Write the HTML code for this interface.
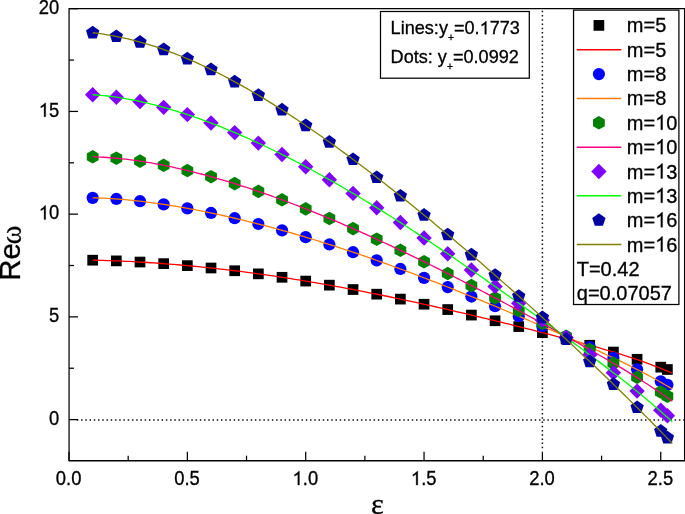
<!DOCTYPE html>
<html><head><meta charset="utf-8"><style>
html,body{margin:0;padding:0;background:#fff;width:685px;height:514px;overflow:hidden}
svg{display:block;will-change:transform}
text{font-family:"Liberation Sans",sans-serif;fill:#000;stroke:#000;stroke-width:0.3px}
tspan.h{fill:none;stroke:none}
path.one{fill:#000;stroke:#000}
</style></head><body>
<svg width="685" height="514" viewBox="0 0 685 514">
<rect width="685" height="514" fill="#fff"/>
<line x1="76.81" y1="419.95" x2="684" y2="419.95" stroke="#111" stroke-width="1.5" stroke-dasharray="1.5 2.74"/>
<line x1="542.4" y1="10.75" x2="542.4" y2="450" stroke="#111" stroke-width="1.5" stroke-dasharray="1.5 2.734"/>
<rect x="87.32" y="254.85" width="10.7" height="10.7" fill="#000000"/>
<rect x="110.99" y="255.53" width="10.7" height="10.7" fill="#000000"/>
<rect x="134.66" y="256.69" width="10.7" height="10.7" fill="#000000"/>
<rect x="158.33" y="258.28" width="10.7" height="10.7" fill="#000000"/>
<rect x="182.00" y="260.27" width="10.7" height="10.7" fill="#000000"/>
<rect x="205.67" y="262.65" width="10.7" height="10.7" fill="#000000"/>
<rect x="229.34" y="265.40" width="10.7" height="10.7" fill="#000000"/>
<rect x="253.01" y="268.50" width="10.7" height="10.7" fill="#000000"/>
<rect x="276.68" y="271.94" width="10.7" height="10.7" fill="#000000"/>
<rect x="300.35" y="275.72" width="10.7" height="10.7" fill="#000000"/>
<rect x="324.02" y="279.80" width="10.7" height="10.7" fill="#000000"/>
<rect x="347.69" y="284.19" width="10.7" height="10.7" fill="#000000"/>
<rect x="371.36" y="288.84" width="10.7" height="10.7" fill="#000000"/>
<rect x="395.03" y="293.75" width="10.7" height="10.7" fill="#000000"/>
<rect x="418.70" y="298.88" width="10.7" height="10.7" fill="#000000"/>
<rect x="442.37" y="304.21" width="10.7" height="10.7" fill="#000000"/>
<rect x="466.04" y="309.72" width="10.7" height="10.7" fill="#000000"/>
<rect x="489.71" y="315.40" width="10.7" height="10.7" fill="#000000"/>
<rect x="513.38" y="321.23" width="10.7" height="10.7" fill="#000000"/>
<rect x="537.05" y="327.24" width="10.7" height="10.7" fill="#000000"/>
<rect x="560.72" y="333.45" width="10.7" height="10.7" fill="#000000"/>
<rect x="584.39" y="339.91" width="10.7" height="10.7" fill="#000000"/>
<rect x="608.06" y="346.70" width="10.7" height="10.7" fill="#000000"/>
<rect x="631.73" y="353.94" width="10.7" height="10.7" fill="#000000"/>
<rect x="655.40" y="361.80" width="10.7" height="10.7" fill="#000000"/>
<rect x="662.03" y="364.13" width="10.7" height="10.7" fill="#000000"/>
<polyline points="92.67,260.20 96.32,260.27 99.96,260.36 103.61,260.45 107.25,260.56 110.90,260.68 114.54,260.81 118.19,260.96 121.84,261.11 125.48,261.28 129.13,261.45 132.77,261.64 136.42,261.83 140.07,262.04 143.71,262.26 147.36,262.49 151.00,262.73 154.65,262.97 158.29,263.23 161.94,263.50 165.59,263.78 169.23,264.06 172.88,264.36 176.52,264.66 180.17,264.98 183.81,265.30 187.46,265.63 191.11,265.98 194.75,266.33 198.40,266.69 202.04,267.06 205.69,267.43 209.33,267.82 212.98,268.22 216.63,268.62 220.27,269.03 223.92,269.45 227.56,269.88 231.21,270.32 234.86,270.77 238.50,271.22 242.15,271.69 245.79,272.16 249.44,272.64 253.08,273.13 256.73,273.62 260.38,274.13 264.02,274.64 267.67,275.16 271.31,275.69 274.96,276.23 278.60,276.77 282.25,277.33 285.90,277.89 289.54,278.46 293.19,279.03 296.83,279.62 300.48,280.21 304.12,280.81 307.77,281.41 311.42,282.03 315.06,282.65 318.71,283.28 322.35,283.91 326.00,284.55 329.65,285.20 333.29,285.86 336.94,286.52 340.58,287.20 344.23,287.87 347.87,288.56 351.52,289.25 355.17,289.94 358.81,290.65 362.46,291.36 366.10,292.07 369.75,292.80 373.39,293.53 377.04,294.26 380.69,295.00 384.33,295.75 387.98,296.50 391.62,297.26 395.27,298.02 398.92,298.79 402.56,299.56 406.21,300.34 409.85,301.13 413.50,301.91 417.14,302.71 420.79,303.51 424.44,304.31 428.08,305.12 431.73,305.94 435.37,306.75 439.02,307.58 442.66,308.40 446.31,309.24 449.96,310.07 453.60,310.91 457.25,311.76 460.89,312.60 464.54,313.46 468.18,314.31 471.83,315.17 475.48,316.04 479.12,316.91 482.77,317.78 486.41,318.65 490.06,319.53 493.71,320.42 497.35,321.30 501.00,322.19 504.64,323.09 508.29,323.99 511.93,324.89 515.58,325.80 519.23,326.71 522.87,327.62 526.52,328.54 530.16,329.46 533.81,330.39 537.45,331.32 541.10,332.26 544.75,333.20 548.39,334.14 552.04,335.09 555.68,336.05 559.33,337.01 562.98,337.97 566.62,338.94 570.27,339.92 573.91,340.91 577.56,341.90 581.20,342.89 584.85,343.90 588.50,344.91 592.14,345.93 595.79,346.95 599.43,347.99 603.08,349.03 606.72,350.09 610.37,351.15 614.02,352.23 617.66,353.32 621.31,354.44 624.95,355.59 628.60,356.76 632.24,357.96 635.89,359.19 639.54,360.44 643.18,361.73 646.83,363.05 650.47,364.39 654.12,365.77 657.77,367.18 661.41,368.63 665.06,370.11 668.70,371.62 672.35,373.17" fill="none" stroke="#FF0000" stroke-width="1.3" stroke-linejoin="round"/>
<circle cx="92.67" cy="197.87" r="6.1" fill="#0000FF"/>
<circle cx="116.34" cy="198.97" r="6.1" fill="#0000FF"/>
<circle cx="140.01" cy="201.21" r="6.1" fill="#0000FF"/>
<circle cx="163.68" cy="204.38" r="6.1" fill="#0000FF"/>
<circle cx="187.35" cy="208.33" r="6.1" fill="#0000FF"/>
<circle cx="211.02" cy="212.97" r="6.1" fill="#0000FF"/>
<circle cx="234.69" cy="218.21" r="6.1" fill="#0000FF"/>
<circle cx="258.36" cy="224.01" r="6.1" fill="#0000FF"/>
<circle cx="282.03" cy="230.34" r="6.1" fill="#0000FF"/>
<circle cx="305.70" cy="237.17" r="6.1" fill="#0000FF"/>
<circle cx="329.37" cy="244.47" r="6.1" fill="#0000FF"/>
<circle cx="353.04" cy="252.22" r="6.1" fill="#0000FF"/>
<circle cx="376.71" cy="260.39" r="6.1" fill="#0000FF"/>
<circle cx="400.38" cy="268.95" r="6.1" fill="#0000FF"/>
<circle cx="424.05" cy="277.86" r="6.1" fill="#0000FF"/>
<circle cx="447.72" cy="287.07" r="6.1" fill="#0000FF"/>
<circle cx="471.39" cy="296.55" r="6.1" fill="#0000FF"/>
<circle cx="495.06" cy="306.25" r="6.1" fill="#0000FF"/>
<circle cx="518.73" cy="316.15" r="6.1" fill="#0000FF"/>
<circle cx="542.40" cy="326.23" r="6.1" fill="#0000FF"/>
<circle cx="566.07" cy="336.51" r="6.1" fill="#0000FF"/>
<circle cx="589.74" cy="347.03" r="6.1" fill="#0000FF"/>
<circle cx="613.41" cy="357.89" r="6.1" fill="#0000FF"/>
<circle cx="637.08" cy="369.23" r="6.1" fill="#0000FF"/>
<circle cx="660.75" cy="381.29" r="6.1" fill="#0000FF"/>
<circle cx="667.38" cy="384.84" r="6.1" fill="#0000FF"/>
<polyline points="92.67,197.87 96.32,197.95 99.96,198.07 103.61,198.22 107.25,198.40 110.90,198.61 114.54,198.84 118.19,199.11 121.84,199.40 125.48,199.71 129.13,200.05 132.77,200.42 136.42,200.80 140.07,201.21 143.71,201.65 147.36,202.10 151.00,202.57 154.65,203.07 158.29,203.58 161.94,204.12 165.59,204.67 169.23,205.24 172.88,205.83 176.52,206.43 180.17,207.06 183.81,207.70 187.46,208.35 191.11,209.02 194.75,209.71 198.40,210.42 202.04,211.13 205.69,211.87 209.33,212.62 212.98,213.38 216.63,214.16 220.27,214.95 223.92,215.75 227.56,216.57 231.21,217.40 234.86,218.25 238.50,219.11 242.15,219.98 245.79,220.87 249.44,221.76 253.08,222.67 256.73,223.60 260.38,224.53 264.02,225.48 267.67,226.44 271.31,227.41 274.96,228.40 278.60,229.39 282.25,230.40 285.90,231.42 289.54,232.46 293.19,233.50 296.83,234.55 300.48,235.62 304.12,236.70 307.77,237.79 311.42,238.89 315.06,240.00 318.71,241.12 322.35,242.26 326.00,243.40 329.65,244.56 333.29,245.72 336.94,246.90 340.58,248.09 344.23,249.28 347.87,250.49 351.52,251.71 355.17,252.94 358.81,254.17 362.46,255.42 366.10,256.68 369.75,257.95 373.39,259.22 377.04,260.51 380.69,261.80 384.33,263.11 387.98,264.42 391.62,265.74 395.27,267.07 398.92,268.41 402.56,269.76 406.21,271.11 409.85,272.47 413.50,273.85 417.14,275.22 420.79,276.61 424.44,278.00 428.08,279.41 431.73,280.81 435.37,282.23 439.02,283.65 442.66,285.08 446.31,286.51 449.96,287.95 453.60,289.40 457.25,290.86 460.89,292.31 464.54,293.78 468.18,295.25 471.83,296.73 475.48,298.21 479.12,299.69 482.77,301.19 486.41,302.68 490.06,304.18 493.71,305.69 497.35,307.20 501.00,308.71 504.64,310.23 508.29,311.76 511.93,313.29 515.58,314.82 519.23,316.36 522.87,317.90 526.52,319.44 530.16,320.99 533.81,322.55 537.45,324.11 541.10,325.67 544.75,327.24 548.39,328.81 552.04,330.39 555.68,331.97 559.33,333.56 562.98,335.15 566.62,336.75 570.27,338.35 573.91,339.96 577.56,341.58 581.20,343.20 584.85,344.83 588.50,346.47 592.14,348.11 595.79,349.77 599.43,351.43 603.08,353.10 606.72,354.78 610.37,356.47 614.02,358.17 617.66,359.89 621.31,361.63 624.95,363.40 628.60,365.19 632.24,367.01 635.89,368.86 639.54,370.73 643.18,372.63 646.83,374.56 650.47,376.52 654.12,378.51 657.77,380.54 661.41,382.59 665.06,384.69 668.70,386.82 672.35,388.99" fill="none" stroke="#FF8000" stroke-width="1.3" stroke-linejoin="round"/>
<polygon points="92.67,150.00 98.56,153.40 98.56,160.20 92.67,163.60 86.78,160.20 86.78,153.40" fill="#008000"/>
<polygon points="116.34,151.44 122.23,154.84 122.23,161.64 116.34,165.04 110.45,161.64 110.45,154.84" fill="#008000"/>
<polygon points="140.01,154.35 145.90,157.75 145.90,164.55 140.01,167.95 134.12,164.55 134.12,157.75" fill="#008000"/>
<polygon points="163.68,158.51 169.57,161.91 169.57,168.71 163.68,172.11 157.79,168.71 157.79,161.91" fill="#008000"/>
<polygon points="187.35,163.73 193.24,167.13 193.24,173.93 187.35,177.33 181.46,173.93 181.46,167.13" fill="#008000"/>
<polygon points="211.02,169.89 216.91,173.29 216.91,180.09 211.02,183.49 205.13,180.09 205.13,173.29" fill="#008000"/>
<polygon points="234.69,176.87 240.58,180.27 240.58,187.07 234.69,190.47 228.80,187.07 228.80,180.27" fill="#008000"/>
<polygon points="258.36,184.61 264.25,188.01 264.25,194.81 258.36,198.21 252.47,194.81 252.47,188.01" fill="#008000"/>
<polygon points="282.03,193.02 287.92,196.42 287.92,203.22 282.03,206.62 276.14,203.22 276.14,196.42" fill="#008000"/>
<polygon points="305.70,202.06 311.59,205.46 311.59,212.26 305.70,215.66 299.81,212.26 299.81,205.46" fill="#008000"/>
<polygon points="329.37,211.68 335.26,215.08 335.26,221.88 329.37,225.28 323.48,221.88 323.48,215.08" fill="#008000"/>
<polygon points="353.04,221.82 358.93,225.22 358.93,232.02 353.04,235.42 347.15,232.02 347.15,225.22" fill="#008000"/>
<polygon points="376.71,232.44 382.60,235.84 382.60,242.64 376.71,246.04 370.82,242.64 370.82,235.84" fill="#008000"/>
<polygon points="400.38,243.50 406.27,246.90 406.27,253.70 400.38,257.10 394.49,253.70 394.49,246.90" fill="#008000"/>
<polygon points="424.05,254.94 429.94,258.34 429.94,265.14 424.05,268.54 418.16,265.14 418.16,258.34" fill="#008000"/>
<polygon points="447.72,266.73 453.61,270.13 453.61,276.93 447.72,280.33 441.83,276.93 441.83,270.13" fill="#008000"/>
<polygon points="471.39,278.82 477.28,282.22 477.28,289.02 471.39,292.42 465.50,289.02 465.50,282.22" fill="#008000"/>
<polygon points="495.06,291.17 500.95,294.57 500.95,301.37 495.06,304.77 489.17,301.37 489.17,294.57" fill="#008000"/>
<polygon points="518.73,303.75 524.62,307.15 524.62,313.95 518.73,317.35 512.84,313.95 512.84,307.15" fill="#008000"/>
<polygon points="542.40,316.55 548.29,319.95 548.29,326.75 542.40,330.15 536.51,326.75 536.51,319.95" fill="#008000"/>
<polygon points="566.07,329.57 571.96,332.97 571.96,339.77 566.07,343.17 560.18,339.77 560.18,332.97" fill="#008000"/>
<polygon points="589.74,342.86 595.63,346.26 595.63,353.06 589.74,356.46 583.85,353.06 583.85,346.26" fill="#008000"/>
<polygon points="613.41,356.47 619.30,359.87 619.30,366.67 613.41,370.07 607.52,366.67 607.52,359.87" fill="#008000"/>
<polygon points="637.08,370.52 642.97,373.92 642.97,380.72 637.08,384.12 631.19,380.72 631.19,373.92" fill="#008000"/>
<polygon points="660.75,385.19 666.64,388.59 666.64,395.39 660.75,398.79 654.86,395.39 654.86,388.59" fill="#008000"/>
<polygon points="667.38,389.44 673.27,392.84 673.27,399.64 667.38,403.04 661.49,399.64 661.49,392.84" fill="#008000"/>
<polyline points="92.67,156.80 96.32,156.91 99.96,157.07 103.61,157.27 107.25,157.50 110.90,157.77 114.54,158.08 118.19,158.42 121.84,158.80 125.48,159.21 129.13,159.65 132.77,160.12 136.42,160.63 140.07,161.16 143.71,161.73 147.36,162.32 151.00,162.94 154.65,163.59 158.29,164.26 161.94,164.96 165.59,165.69 169.23,166.44 172.88,167.22 176.52,168.02 180.17,168.84 183.81,169.69 187.46,170.55 191.11,171.45 194.75,172.36 198.40,173.29 202.04,174.25 205.69,175.22 209.33,176.22 212.98,177.23 216.63,178.27 220.27,179.32 223.92,180.40 227.56,181.49 231.21,182.60 234.86,183.72 238.50,184.87 242.15,186.03 245.79,187.21 249.44,188.41 253.08,189.62 256.73,190.85 260.38,192.10 264.02,193.36 267.67,194.64 271.31,195.93 274.96,197.24 278.60,198.57 282.25,199.91 285.90,201.26 289.54,202.63 293.19,204.01 296.83,205.41 300.48,206.82 304.12,208.24 307.77,209.68 311.42,211.13 315.06,212.60 318.71,214.08 322.35,215.57 326.00,217.08 329.65,218.59 333.29,220.12 336.94,221.66 340.58,223.22 344.23,224.78 347.87,226.36 351.52,227.95 355.17,229.55 358.81,231.17 362.46,232.79 366.10,234.42 369.75,236.07 373.39,237.72 377.04,239.39 380.69,241.07 384.33,242.75 387.98,244.45 391.62,246.16 395.27,247.87 398.92,249.60 402.56,251.34 406.21,253.08 409.85,254.83 413.50,256.59 417.14,258.36 420.79,260.14 424.44,261.93 428.08,263.73 431.73,265.53 435.37,267.34 439.02,269.16 442.66,270.99 446.31,272.82 449.96,274.66 453.60,276.51 457.25,278.36 460.89,280.22 464.54,282.09 468.18,283.96 471.83,285.84 475.48,287.73 479.12,289.62 482.77,291.52 486.41,293.43 490.06,295.34 493.71,297.25 497.35,299.17 501.00,301.10 504.64,303.03 508.29,304.97 511.93,306.91 515.58,308.86 519.23,310.81 522.87,312.77 526.52,314.73 530.16,316.70 533.81,318.68 537.45,320.66 541.10,322.64 544.75,324.63 548.39,326.62 552.04,328.62 555.68,330.63 559.33,332.64 562.98,334.66 566.62,336.68 570.27,338.71 573.91,340.74 577.56,342.79 581.20,344.83 584.85,346.89 588.50,348.95 592.14,351.02 595.79,353.10 599.43,355.19 603.08,357.28 606.72,359.39 610.37,361.50 614.02,363.62 617.66,365.77 621.31,367.93 624.95,370.12 628.60,372.34 632.24,374.58 635.89,376.84 639.54,379.14 643.18,381.46 646.83,383.81 650.47,386.18 654.12,388.59 657.77,391.03 661.41,393.50 665.06,396.00 668.70,398.54 672.35,401.11" fill="none" stroke="#FF0080" stroke-width="1.3" stroke-linejoin="round"/>
<polygon points="92.67,87.05 100.37,94.75 92.67,102.45 84.97,94.75" fill="#8000FF"/>
<polygon points="116.34,89.49 124.04,97.19 116.34,104.89 108.64,97.19" fill="#8000FF"/>
<polygon points="140.01,93.78 147.71,101.48 140.01,109.18 132.31,101.48" fill="#8000FF"/>
<polygon points="163.68,99.65 171.38,107.35 163.68,115.05 155.98,107.35" fill="#8000FF"/>
<polygon points="187.35,106.90 195.05,114.60 187.35,122.30 179.65,114.60" fill="#8000FF"/>
<polygon points="211.02,115.35 218.72,123.05 211.02,130.75 203.32,123.05" fill="#8000FF"/>
<polygon points="234.69,124.88 242.39,132.58 234.69,140.28 226.99,132.58" fill="#8000FF"/>
<polygon points="258.36,135.39 266.06,143.09 258.36,150.79 250.66,143.09" fill="#8000FF"/>
<polygon points="282.03,146.79 289.73,154.49 282.03,162.19 274.33,154.49" fill="#8000FF"/>
<polygon points="305.70,159.02 313.40,166.72 305.70,174.42 298.00,166.72" fill="#8000FF"/>
<polygon points="329.37,172.00 337.07,179.70 329.37,187.40 321.67,179.70" fill="#8000FF"/>
<polygon points="353.04,185.68 360.74,193.38 353.04,201.08 345.34,193.38" fill="#8000FF"/>
<polygon points="376.71,199.99 384.41,207.69 376.71,215.39 369.01,207.69" fill="#8000FF"/>
<polygon points="400.38,214.87 408.08,222.57 400.38,230.27 392.68,222.57" fill="#8000FF"/>
<polygon points="424.05,230.25 431.75,237.95 424.05,245.65 416.35,237.95" fill="#8000FF"/>
<polygon points="447.72,246.06 455.42,253.76 447.72,261.46 440.02,253.76" fill="#8000FF"/>
<polygon points="471.39,262.24 479.09,269.94 471.39,277.64 463.69,269.94" fill="#8000FF"/>
<polygon points="495.06,278.72 502.76,286.42 495.06,294.12 487.36,286.42" fill="#8000FF"/>
<polygon points="518.73,295.47 526.43,303.17 518.73,310.87 511.03,303.17" fill="#8000FF"/>
<polygon points="542.40,312.46 550.10,320.16 542.40,327.86 534.70,320.16" fill="#8000FF"/>
<polygon points="566.07,329.68 573.77,337.38 566.07,345.08 558.37,337.38" fill="#8000FF"/>
<polygon points="589.74,347.18 597.44,354.88 589.74,362.58 582.04,354.88" fill="#8000FF"/>
<polygon points="613.41,365.03 621.11,372.73 613.41,380.43 605.71,372.73" fill="#8000FF"/>
<polygon points="637.08,383.39 644.78,391.09 637.08,398.79 629.38,391.09" fill="#8000FF"/>
<polygon points="660.75,402.47 668.45,410.17 660.75,417.87 653.05,410.17" fill="#8000FF"/>
<polygon points="667.38,407.98 675.08,415.68 667.38,423.38 659.68,415.68" fill="#8000FF"/>
<polyline points="92.67,94.75 96.32,94.99 99.96,95.28 103.61,95.63 107.25,96.02 110.90,96.45 114.54,96.93 118.19,97.46 121.84,98.03 125.48,98.64 129.13,99.30 132.77,99.99 136.42,100.72 140.07,101.49 143.71,102.30 147.36,103.15 151.00,104.03 154.65,104.94 158.29,105.89 161.94,106.87 165.59,107.89 169.23,108.94 172.88,110.02 176.52,111.13 180.17,112.27 183.81,113.44 187.46,114.63 191.11,115.86 194.75,117.12 198.40,118.40 202.04,119.71 205.69,121.05 209.33,122.41 212.98,123.80 216.63,125.21 220.27,126.65 223.92,128.11 227.56,129.60 231.21,131.11 234.86,132.65 238.50,134.21 242.15,135.79 245.79,137.39 249.44,139.02 253.08,140.66 256.73,142.33 260.38,144.02 264.02,145.74 267.67,147.47 271.31,149.22 274.96,150.99 278.60,152.79 282.25,154.60 285.90,156.43 289.54,158.28 293.19,160.15 296.83,162.04 300.48,163.95 304.12,165.88 307.77,167.82 311.42,169.78 315.06,171.76 318.71,173.76 322.35,175.78 326.00,177.81 329.65,179.86 333.29,181.92 336.94,184.00 340.58,186.10 344.23,188.21 347.87,190.34 351.52,192.48 355.17,194.64 358.81,196.81 362.46,199.00 366.10,201.20 369.75,203.42 373.39,205.65 377.04,207.90 380.69,210.15 384.33,212.42 387.98,214.71 391.62,217.00 395.27,219.31 398.92,221.63 402.56,223.97 406.21,226.31 409.85,228.67 413.50,231.04 417.14,233.41 420.79,235.80 424.44,238.20 428.08,240.61 431.73,243.03 435.37,245.46 439.02,247.90 442.66,250.35 446.31,252.81 449.96,255.27 453.60,257.75 457.25,260.23 460.89,262.72 464.54,265.22 468.18,267.73 471.83,270.24 475.48,272.76 479.12,275.29 482.77,277.83 486.41,280.37 490.06,282.92 493.71,285.47 497.35,288.03 501.00,290.60 504.64,293.17 508.29,295.75 511.93,298.34 515.58,300.93 519.23,303.53 522.87,306.13 526.52,308.74 530.16,311.35 533.81,313.97 537.45,316.59 541.10,319.22 544.75,321.85 548.39,324.50 552.04,327.14 555.68,329.79 559.33,332.45 562.98,335.11 566.62,337.78 570.27,340.46 573.91,343.14 577.56,345.83 581.20,348.53 584.85,351.24 588.50,353.95 592.14,356.67 595.79,359.40 599.43,362.14 603.08,364.89 606.72,367.64 610.37,370.41 614.02,373.19 617.66,376.00 621.31,378.83 624.95,381.69 628.60,384.57 632.24,387.49 635.89,390.44 639.54,393.42 643.18,396.44 646.83,399.48 650.47,402.57 654.12,405.68 657.77,408.84 661.41,412.03 665.06,415.27 668.70,418.54 672.35,421.86" fill="none" stroke="#00FF00" stroke-width="1.3" stroke-linejoin="round"/>
<polygon points="92.67,25.74 99.33,30.58 96.78,38.40 88.56,38.40 86.01,30.58" fill="#0000A0"/>
<polygon points="116.34,29.43 123.00,34.27 120.45,42.10 112.23,42.10 109.68,34.27" fill="#0000A0"/>
<polygon points="140.01,35.06 146.67,39.90 144.12,47.73 135.90,47.73 133.35,39.90" fill="#0000A0"/>
<polygon points="163.68,42.54 170.34,47.37 167.79,55.20 159.57,55.20 157.02,47.37" fill="#0000A0"/>
<polygon points="187.35,51.73 194.01,56.57 191.46,64.39 183.24,64.39 180.69,56.57" fill="#0000A0"/>
<polygon points="211.02,62.51 217.68,67.34 215.13,75.17 206.91,75.17 204.36,67.34" fill="#0000A0"/>
<polygon points="234.69,74.72 241.35,79.55 238.80,87.38 230.58,87.38 228.03,79.55" fill="#0000A0"/>
<polygon points="258.36,88.22 265.02,93.06 262.47,100.88 254.25,100.88 251.70,93.06" fill="#0000A0"/>
<polygon points="282.03,102.87 288.69,107.71 286.14,115.53 277.92,115.53 275.37,107.71" fill="#0000A0"/>
<polygon points="305.70,118.53 312.36,123.37 309.81,131.19 301.59,131.19 299.04,123.37" fill="#0000A0"/>
<polygon points="329.37,135.07 336.03,139.91 333.48,147.74 325.26,147.74 322.71,139.91" fill="#0000A0"/>
<polygon points="353.04,152.39 359.70,157.22 357.15,165.05 348.93,165.05 346.38,157.22" fill="#0000A0"/>
<polygon points="376.71,170.38 383.37,175.21 380.82,183.04 372.60,183.04 370.05,175.21" fill="#0000A0"/>
<polygon points="400.38,188.96 407.04,193.79 404.49,201.62 396.27,201.62 393.72,193.79" fill="#0000A0"/>
<polygon points="424.05,208.07 430.71,212.91 428.16,220.73 419.94,220.73 417.39,212.91" fill="#0000A0"/>
<polygon points="447.72,227.67 454.38,232.50 451.83,240.33 443.61,240.33 441.06,232.50" fill="#0000A0"/>
<polygon points="471.39,247.72 478.05,252.55 475.50,260.38 467.28,260.38 464.73,252.55" fill="#0000A0"/>
<polygon points="495.06,268.21 501.72,273.04 499.17,280.87 490.95,280.87 488.40,273.04" fill="#0000A0"/>
<polygon points="518.73,289.13 525.39,293.97 522.84,301.79 514.62,301.79 512.07,293.97" fill="#0000A0"/>
<polygon points="542.40,310.49 549.06,315.33 546.51,323.16 538.29,323.16 535.74,315.33" fill="#0000A0"/>
<polygon points="566.07,332.30 572.73,337.14 570.18,344.96 561.96,344.96 559.41,337.14" fill="#0000A0"/>
<polygon points="589.74,354.57 596.40,359.40 593.85,367.23 585.63,367.23 583.08,359.40" fill="#0000A0"/>
<polygon points="613.41,377.29 620.07,382.13 617.52,389.95 609.30,389.95 606.75,382.13" fill="#0000A0"/>
<polygon points="637.08,400.46 643.74,405.30 641.19,413.12 632.97,413.12 630.42,405.30" fill="#0000A0"/>
<polygon points="660.75,424.05 667.41,428.88 664.86,436.71 656.64,436.71 654.09,428.88" fill="#0000A0"/>
<polygon points="667.38,430.72 674.03,435.56 671.49,443.38 663.26,443.38 660.72,435.56" fill="#0000A0"/>
<polyline points="92.67,32.74 96.32,33.18 99.96,33.67 103.61,34.20 107.25,34.78 110.90,35.41 114.54,36.08 118.19,36.80 121.84,37.57 125.48,38.38 129.13,39.24 132.77,40.14 136.42,41.09 140.07,42.08 143.71,43.11 147.36,44.19 151.00,45.31 154.65,46.48 158.29,47.68 161.94,48.93 165.59,50.22 169.23,51.54 172.88,52.91 176.52,54.32 180.17,55.77 183.81,57.25 187.46,58.78 191.11,60.34 194.75,61.94 198.40,63.57 202.04,65.24 205.69,66.95 209.33,68.69 212.98,70.46 216.63,72.27 220.27,74.12 223.92,75.99 227.56,77.90 231.21,79.84 234.86,81.81 238.50,83.81 242.15,85.84 245.79,87.90 249.44,89.99 253.08,92.11 256.73,94.25 260.38,96.43 264.02,98.63 267.67,100.85 271.31,103.10 274.96,105.38 278.60,107.68 282.25,110.01 285.90,112.36 289.54,114.74 293.19,117.13 296.83,119.55 300.48,122.00 304.12,124.46 307.77,126.94 311.42,129.45 315.06,131.97 318.71,134.52 322.35,137.08 326.00,139.67 329.65,142.27 333.29,144.89 336.94,147.53 340.58,150.19 344.23,152.86 347.87,155.55 351.52,158.25 355.17,160.98 358.81,163.71 362.46,166.47 366.10,169.24 369.75,172.02 373.39,174.82 377.04,177.63 380.69,180.46 384.33,183.30 387.98,186.15 391.62,189.02 395.27,191.90 398.92,194.79 402.56,197.70 406.21,200.62 409.85,203.55 413.50,206.49 417.14,209.44 420.79,212.41 424.44,215.39 428.08,218.37 431.73,221.37 435.37,224.39 439.02,227.41 442.66,230.44 446.31,233.49 449.96,236.54 453.60,239.61 457.25,242.68 460.89,245.77 464.54,248.87 468.18,251.98 471.83,255.10 475.48,258.22 479.12,261.36 482.77,264.51 486.41,267.67 490.06,270.84 493.71,274.02 497.35,277.21 501.00,280.41 504.64,283.63 508.29,286.85 511.93,290.08 515.58,293.32 519.23,296.57 522.87,299.84 526.52,303.11 530.16,306.39 533.81,309.69 537.45,312.99 541.10,316.31 544.75,319.63 548.39,322.97 552.04,326.32 555.68,329.68 559.33,333.04 562.98,336.42 566.62,339.81 570.27,343.22 573.91,346.63 577.56,350.05 581.20,353.48 584.85,356.93 588.50,360.38 592.14,363.85 595.79,367.33 599.43,370.82 603.08,374.31 606.72,377.82 610.37,381.34 614.02,384.88 617.66,388.42 621.31,391.98 624.95,395.56 628.60,399.15 632.24,402.76 635.89,406.38 639.54,410.02 643.18,413.68 646.83,417.35 650.47,421.03 654.12,424.73 657.77,428.44 661.41,432.17 665.06,435.91 668.70,439.66 672.35,443.43" fill="none" stroke="#808000" stroke-width="1.3" stroke-linejoin="round"/>
<g stroke="#000" stroke-width="1.25" fill="none">
<path d="M69.07,8.7 H684.7" stroke-width="1.3"/>
<path d="M69.07,460.76 H684.7" stroke-width="1.3"/>
<path d="M69.07,8.1 V461.3"/>
<path d="M684.6,8.1 V461.3"/>
<path d="M69,419.60 h9"/>
<path d="M69,368.24 h5"/>
<path d="M69,316.88 h9"/>
<path d="M69,265.51 h5"/>
<path d="M69,214.15 h9"/>
<path d="M69,162.79 h5"/>
<path d="M69,111.43 h9"/>
<path d="M69,60.06 h5"/>
<path d="M69,8.70 h9"/>
<path d="M69.00,460.7 v-9"/>
<path d="M128.18,460.7 v-5"/>
<path d="M187.35,460.7 v-9"/>
<path d="M246.52,460.7 v-5"/>
<path d="M305.70,460.7 v-9"/>
<path d="M364.88,460.7 v-5"/>
<path d="M424.05,460.7 v-9"/>
<path d="M483.22,460.7 v-5"/>
<path d="M542.40,460.7 v-9"/>
<path d="M601.57,460.7 v-5"/>
<path d="M660.75,460.7 v-9"/>
</g>
<text transform="translate(59.30,424.90) scale(1,1.05)" font-size="18.4" text-anchor="end">0</text>
<text transform="translate(59.30,322.18) scale(1,1.05)" font-size="18.4" text-anchor="end">5</text>
<g transform="translate(59.30,219.45) scale(1,1.05)"><text font-size="18.4" text-anchor="end"><tspan class="h">1</tspan>0</text><path class="one" stroke-width="33.39" transform="translate(-20.466,0) scale(0.008984,-0.008984)" d="M763,0 L583,0 L583,1147 Q518,1085 415,1024.5 Q312,964 223,931 L223,1105 Q385,1181 511,1294.5 Q637,1408 680,1466 L763,1466 Z"/></g>
<g transform="translate(59.30,116.73) scale(1,1.05)"><text font-size="18.4" text-anchor="end"><tspan class="h">1</tspan>5</text><path class="one" stroke-width="33.39" transform="translate(-20.466,0) scale(0.008984,-0.008984)" d="M763,0 L583,0 L583,1147 Q518,1085 415,1024.5 Q312,964 223,931 L223,1105 Q385,1181 511,1294.5 Q637,1408 680,1466 L763,1466 Z"/></g>
<text transform="translate(59.30,14.00) scale(1,1.05)" font-size="18.4" text-anchor="end">20</text>
<text transform="translate(68.65,485.00) scale(1,1.05)" font-size="18.4" text-anchor="middle">0.0</text>
<text transform="translate(187.00,485.00) scale(1,1.05)" font-size="18.4" text-anchor="middle">0.5</text>
<g transform="translate(305.35,485.00) scale(1,1.05)"><text font-size="18.4" text-anchor="middle"><tspan class="h">1</tspan>.0</text><path class="one" stroke-width="33.39" transform="translate(-12.789,0) scale(0.008984,-0.008984)" d="M763,0 L583,0 L583,1147 Q518,1085 415,1024.5 Q312,964 223,931 L223,1105 Q385,1181 511,1294.5 Q637,1408 680,1466 L763,1466 Z"/></g>
<g transform="translate(423.70,485.00) scale(1,1.05)"><text font-size="18.4" text-anchor="middle"><tspan class="h">1</tspan>.5</text><path class="one" stroke-width="33.39" transform="translate(-12.789,0) scale(0.008984,-0.008984)" d="M763,0 L583,0 L583,1147 Q518,1085 415,1024.5 Q312,964 223,931 L223,1105 Q385,1181 511,1294.5 Q637,1408 680,1466 L763,1466 Z"/></g>
<text transform="translate(542.05,485.00) scale(1,1.05)" font-size="18.4" text-anchor="middle">2.0</text>
<text transform="translate(660.40,485.00) scale(1,1.05)" font-size="18.4" text-anchor="middle">2.5</text>
<text transform="translate(20.4,280.8) rotate(-90) scale(1,1.0)" font-size="29.5">Re<tspan dx="-1.2" dy="0.6" font-size="28.4" style="font-family:'Liberation Serif',serif">&#969;</tspan></text>
<text x="377.4" y="514" font-size="30.4" text-anchor="middle" style="font-family:'Liberation Serif',serif">&#949;</text>
<rect x="380.5" y="11.5" width="148.8" height="66.7" fill="#fff" stroke="#000" stroke-width="1.25"/>
<text transform="translate(390.60,34.30) scale(1,1.0)" font-size="18.1">Lines:y</text>
<text transform="translate(447.95,41.20) scale(1,1.0)" font-size="10.3">+</text>
<g transform="translate(453.96,34.30) scale(1,1.0)"><text font-size="18.1">=0.<tspan class="h">1</tspan>773</text><path class="one" stroke-width="33.94" transform="translate(25.665,0) scale(0.008838,-0.008838)" d="M763,0 L583,0 L583,1147 Q518,1085 415,1024.5 Q312,964 223,931 L223,1105 Q385,1181 511,1294.5 Q637,1408 680,1466 L763,1466 Z"/></g>
<text transform="translate(390.60,62.70) scale(1,1.0)" font-size="18.1">Dots: y</text>
<text transform="translate(446.92,69.60) scale(1,1.0)" font-size="10.3">+</text>
<text transform="translate(452.94,62.70) scale(1,1.0)" font-size="18.1">=0.0992</text>
<rect x="573.55" y="10.1" width="105.35" height="294.4" fill="#fff" stroke="#000" stroke-width="1.25"/>
<rect x="593.55" y="20.05" width="10.7" height="10.7" fill="#000000"/>
<line x1="576.8" y1="49.75" x2="621.3" y2="49.75" stroke="#FF0000" stroke-width="1.5"/>
<text transform="translate(626.80,32.40) scale(1,1.05)" font-size="20.0">m=5</text>
<text transform="translate(626.80,56.75) scale(1,1.05)" font-size="20.0">m=5</text>
<circle cx="598.90" cy="74.10" r="6.1" fill="#0000FF"/>
<line x1="576.8" y1="98.45" x2="621.3" y2="98.45" stroke="#FF8000" stroke-width="1.5"/>
<text transform="translate(626.80,81.10) scale(1,1.05)" font-size="20.0">m=8</text>
<text transform="translate(626.80,105.45) scale(1,1.05)" font-size="20.0">m=8</text>
<polygon points="598.90,116.00 604.79,119.40 604.79,126.20 598.90,129.60 593.01,126.20 593.01,119.40" fill="#008000"/>
<line x1="576.8" y1="147.15" x2="621.3" y2="147.15" stroke="#FF0080" stroke-width="1.5"/>
<g transform="translate(626.80,129.80) scale(1,1.05)"><text font-size="20.0">m=<tspan class="h">1</tspan>0</text><path class="one" stroke-width="30.72" transform="translate(28.340,0) scale(0.009766,-0.009766)" d="M763,0 L583,0 L583,1147 Q518,1085 415,1024.5 Q312,964 223,931 L223,1105 Q385,1181 511,1294.5 Q637,1408 680,1466 L763,1466 Z"/></g>
<g transform="translate(626.80,154.15) scale(1,1.05)"><text font-size="20.0">m=<tspan class="h">1</tspan>0</text><path class="one" stroke-width="30.72" transform="translate(28.340,0) scale(0.009766,-0.009766)" d="M763,0 L583,0 L583,1147 Q518,1085 415,1024.5 Q312,964 223,931 L223,1105 Q385,1181 511,1294.5 Q637,1408 680,1466 L763,1466 Z"/></g>
<polygon points="598.90,163.80 606.60,171.50 598.90,179.20 591.20,171.50" fill="#8000FF"/>
<line x1="576.8" y1="195.85" x2="621.3" y2="195.85" stroke="#00FF00" stroke-width="1.5"/>
<g transform="translate(626.80,178.50) scale(1,1.05)"><text font-size="20.0">m=<tspan class="h">1</tspan>3</text><path class="one" stroke-width="30.72" transform="translate(28.340,0) scale(0.009766,-0.009766)" d="M763,0 L583,0 L583,1147 Q518,1085 415,1024.5 Q312,964 223,931 L223,1105 Q385,1181 511,1294.5 Q637,1408 680,1466 L763,1466 Z"/></g>
<g transform="translate(626.80,202.85) scale(1,1.05)"><text font-size="20.0">m=<tspan class="h">1</tspan>3</text><path class="one" stroke-width="30.72" transform="translate(28.340,0) scale(0.009766,-0.009766)" d="M763,0 L583,0 L583,1147 Q518,1085 415,1024.5 Q312,964 223,931 L223,1105 Q385,1181 511,1294.5 Q637,1408 680,1466 L763,1466 Z"/></g>
<polygon points="598.90,213.20 605.56,218.04 603.01,225.86 594.79,225.86 592.24,218.04" fill="#0000A0"/>
<line x1="576.8" y1="244.55" x2="621.3" y2="244.55" stroke="#808000" stroke-width="1.5"/>
<g transform="translate(626.80,227.20) scale(1,1.05)"><text font-size="20.0">m=<tspan class="h">1</tspan>6</text><path class="one" stroke-width="30.72" transform="translate(28.340,0) scale(0.009766,-0.009766)" d="M763,0 L583,0 L583,1147 Q518,1085 415,1024.5 Q312,964 223,931 L223,1105 Q385,1181 511,1294.5 Q637,1408 680,1466 L763,1466 Z"/></g>
<g transform="translate(626.80,251.55) scale(1,1.05)"><text font-size="20.0">m=<tspan class="h">1</tspan>6</text><path class="one" stroke-width="30.72" transform="translate(28.340,0) scale(0.009766,-0.009766)" d="M763,0 L583,0 L583,1147 Q518,1085 415,1024.5 Q312,964 223,931 L223,1105 Q385,1181 511,1294.5 Q637,1408 680,1466 L763,1466 Z"/></g>
<text transform="translate(576.70,275.90) scale(1,1.05)" font-size="20.0">T=0.42</text>
<text transform="translate(576.80,300.25) scale(1,1.05)" font-size="20.0">q=0.07057</text>
</svg></body></html>
